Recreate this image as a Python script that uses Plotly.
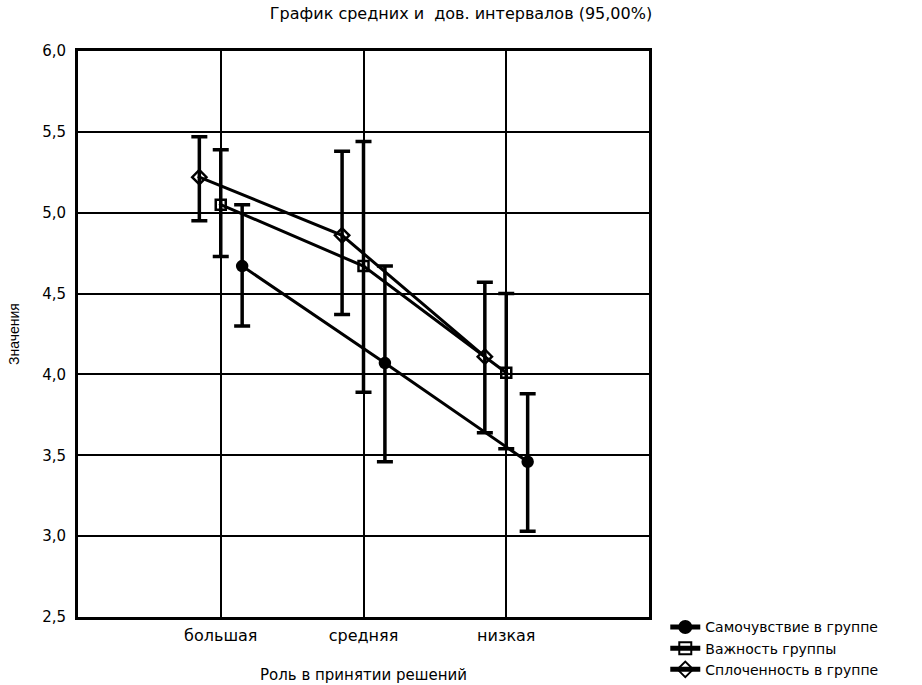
import plotly.graph_objects as go

categories = ["большая", "средняя", "низкая"]
series_names = ["Самочувствие в группе", "Важность группы", "Сплоченность в группе"]

samochuvstvie_mean = [4.67, 4.07, 3.46]
samochuvstvie_low = [4.30, 3.46, 3.03]
samochuvstvie_high = [5.05, 4.67, 3.88]

vazhnost_mean = [5.05, 4.67, 4.01]
vazhnost_low = [4.73, 3.89, 3.54]
vazhnost_high = [5.39, 5.44, 4.50]

splochennost_mean = [5.22, 4.86, 4.11]
splochennost_low = [4.95, 4.37, 3.64]
splochennost_high = [5.47, 5.38, 4.57]

y_ticks = [2.5, 3.0, 3.5, 4.0, 4.5, 5.0, 5.5, 6.0]

WIDE = "DejaVu Sans, Verdana, sans-serif"
NARROW = "Liberation Sans, Arial, sans-serif"
series = [
    (series_names[0], samochuvstvie_mean, samochuvstvie_low, samochuvstvie_high, 0.15, "circle", 10),
    (series_names[1], vazhnost_mean, vazhnost_low, vazhnost_high, 0.0, "square-open-dot", 10),
    (series_names[2], splochennost_mean, splochennost_low, splochennost_high, -0.15, "diamond-open-dot", 11),
]

fig = go.Figure()
for name, mean, low, high, off, sym, sz in series:
    xs = [i + 1 + off for i in range(len(categories))]
    fig.add_trace(go.Scatter(
        x=xs, y=mean, name=name, mode="lines+markers",
        line=dict(color="black", width=3),
        marker=dict(symbol=sym, size=sz, color="black",
                    line=dict(color="black", width=2.5)),
        error_y=dict(type="data", symmetric=False,
                     array=[h - m for h, m in zip(high, mean)],
                     arrayminus=[m - l for m, l in zip(mean, low)],
                     color="black", thickness=3.5, width=8),
    ))

fig.update_layout(
    width=922, height=685,
    paper_bgcolor="white", plot_bgcolor="white",
    margin=dict(l=78, r=273, t=51, b=68, autoexpand=False),
    separators=", ",
    font=dict(family=WIDE, size=15, color="black"),
    title=dict(text="График средних и  дов. интервалов (95,00%)",
               x=0.5, xanchor="center", y=0.981, yanchor="middle",
               font=dict(size=16, family=WIDE)),
    showlegend=True,
    legend=dict(x=1.0285, y=0.01, xanchor="left", yanchor="top",
                bgcolor="rgba(0,0,0,0)", font=dict(size=14, family=WIDE),
                tracegroupgap=0, itemsizing="constant"),
    xaxis=dict(range=[0, 4], tickvals=[1, 2, 3], ticktext=categories,
               showgrid=True, gridcolor="black", gridwidth=1.5,
               showline=True, linecolor="black", linewidth=3, mirror=True,
               ticks="", zeroline=False, automargin=False,
               ticklabelstandoff=2,
               tickfont=dict(size=16, family=WIDE),
               title=dict(text="Роль в принятии решений", standoff=26,
                          font=dict(size=15, family=WIDE))),
    yaxis=dict(range=[2.5, 6.0], tickvals=y_ticks,
               tickformat=".1f",
               showgrid=True, gridcolor="black", gridwidth=1.5,
               showline=True, linecolor="black", linewidth=3, mirror=True,
               ticks="", zeroline=False, automargin=False,
               ticklabelstandoff=6,
               tickfont=dict(size=15, family=WIDE),
               title=dict(text="Значения", standoff=20,
                          font=dict(size=14, family=NARROW))),
)

fig.write_html("out.html", config={"displayModeBar": False},
               post_script="document.body.style.margin='0';")
